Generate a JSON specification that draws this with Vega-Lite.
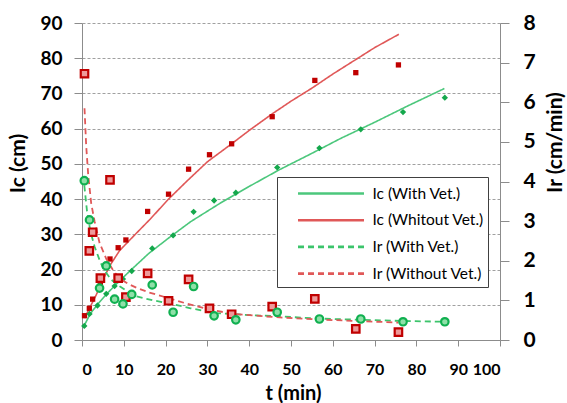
{
  "$schema": "https://vega.github.io/schema/vega-lite/v6.json",
  "width": 418,
  "height": 317,
  "autosize": {"type": "none"},
  "padding": {"left": 82, "top": 23, "right": 67, "bottom": 63},
  "background": "white",
  "config": {
    "view": {"stroke": null},
    "font": "Lato",
    "axis": {
      "domainColor": "#8c8c8c",
      "tickColor": "#8c8c8c",
      "labelColor": "#000000",
      "labelFont": "Lato",
      "labelFontWeight": "bold",
      "titleFont": "Lato",
      "titleFontWeight": "bold",
      "titleColor": "#000000"
    }
  },
  "datasets": {
    "pts": [
      {"t": 0.55, "v": 4.0, "s": "IcW"}, {"t": 1.8, "v": 7.4, "s": "IcW"}, {"t": 3.7, "v": 9.8, "s": "IcW"},
      {"t": 5.8, "v": 13.1, "s": "IcW"}, {"t": 7.8, "v": 15.3, "s": "IcW"}, {"t": 9.8, "v": 17.3, "s": "IcW"},
      {"t": 11.9, "v": 19.6, "s": "IcW"}, {"t": 16.8, "v": 26.0, "s": "IcW"}, {"t": 21.8, "v": 29.7, "s": "IcW"},
      {"t": 26.7, "v": 36.4, "s": "IcW"}, {"t": 31.6, "v": 39.6, "s": "IcW"}, {"t": 36.8, "v": 41.8, "s": "IcW"},
      {"t": 46.7, "v": 49.0, "s": "IcW"}, {"t": 56.8, "v": 54.5, "s": "IcW"}, {"t": 66.7, "v": 59.8, "s": "IcW"},
      {"t": 76.8, "v": 64.7, "s": "IcW"}, {"t": 86.8, "v": 68.8, "s": "IcW"},
      {"t": 0.6, "v": 6.9, "s": "IcWo"}, {"t": 1.75, "v": 9.0, "s": "IcWo"}, {"t": 2.55, "v": 11.6, "s": "IcWo"},
      {"t": 4.4, "v": 15.5, "s": "IcWo"}, {"t": 6.7, "v": 23.0, "s": "IcWo"}, {"t": 8.65, "v": 26.2, "s": "IcWo"},
      {"t": 10.5, "v": 28.4, "s": "IcWo"}, {"t": 15.7, "v": 36.5, "s": "IcWo"}, {"t": 20.7, "v": 41.4, "s": "IcWo"},
      {"t": 25.5, "v": 48.5, "s": "IcWo"}, {"t": 30.5, "v": 52.6, "s": "IcWo"}, {"t": 35.8, "v": 55.7, "s": "IcWo"},
      {"t": 45.5, "v": 63.4, "s": "IcWo"}, {"t": 55.7, "v": 73.7, "s": "IcWo"}, {"t": 65.5, "v": 75.9, "s": "IcWo"},
      {"t": 75.7, "v": 78.1, "s": "IcWo"},
      {"t": 0.55, "v": 4.02, "s": "IrW"}, {"t": 1.8, "v": 3.03, "s": "IrW"}, {"t": 4.2, "v": 1.31, "s": "IrW"},
      {"t": 5.8, "v": 1.87, "s": "IrW"}, {"t": 7.8, "v": 1.03, "s": "IrW"}, {"t": 9.8, "v": 0.91, "s": "IrW"},
      {"t": 11.9, "v": 1.15, "s": "IrW"}, {"t": 16.8, "v": 1.39, "s": "IrW"}, {"t": 21.8, "v": 0.70, "s": "IrW"},
      {"t": 26.7, "v": 1.35, "s": "IrW"}, {"t": 31.6, "v": 0.61, "s": "IrW"}, {"t": 36.8, "v": 0.51, "s": "IrW"},
      {"t": 46.7, "v": 0.70, "s": "IrW"}, {"t": 56.8, "v": 0.53, "s": "IrW"}, {"t": 66.7, "v": 0.53, "s": "IrW"},
      {"t": 76.8, "v": 0.46, "s": "IrW"}, {"t": 86.8, "v": 0.46, "s": "IrW"},
      {"t": 0.6, "v": 6.72, "s": "IrWo"}, {"t": 1.75, "v": 2.25, "s": "IrWo"}, {"t": 2.55, "v": 2.72, "s": "IrWo"},
      {"t": 4.4, "v": 1.56, "s": "IrWo"}, {"t": 6.7, "v": 4.04, "s": "IrWo"}, {"t": 8.65, "v": 1.56, "s": "IrWo"},
      {"t": 10.5, "v": 1.08, "s": "IrWo"}, {"t": 15.7, "v": 1.68, "s": "IrWo"}, {"t": 20.7, "v": 0.99, "s": "IrWo"},
      {"t": 25.5, "v": 1.53, "s": "IrWo"}, {"t": 30.5, "v": 0.80, "s": "IrWo"}, {"t": 35.8, "v": 0.65, "s": "IrWo"},
      {"t": 45.5, "v": 0.84, "s": "IrWo"}, {"t": 55.7, "v": 1.04, "s": "IrWo"}, {"t": 65.5, "v": 0.28, "s": "IrWo"},
      {"t": 75.7, "v": 0.20, "s": "IrWo"}
    ],
    "fit": [
      {"t": 0.5, "v": 4.0, "series": "Ic (With Vet.)"}, {"t": 2, "v": 7.5, "series": "Ic (With Vet.)"},
      {"t": 4, "v": 10.5, "series": "Ic (With Vet.)"}, {"t": 6, "v": 13.2, "series": "Ic (With Vet.)"},
      {"t": 9, "v": 16.8, "series": "Ic (With Vet.)"}, {"t": 12, "v": 20.2, "series": "Ic (With Vet.)"},
      {"t": 16, "v": 24.6, "series": "Ic (With Vet.)"}, {"t": 21, "v": 29.2, "series": "Ic (With Vet.)"},
      {"t": 26, "v": 33.6, "series": "Ic (With Vet.)"}, {"t": 33, "v": 38.8, "series": "Ic (With Vet.)"},
      {"t": 40, "v": 43.6, "series": "Ic (With Vet.)"}, {"t": 47, "v": 48.2, "series": "Ic (With Vet.)"},
      {"t": 55, "v": 53.0, "series": "Ic (With Vet.)"}, {"t": 62, "v": 57.3, "series": "Ic (With Vet.)"},
      {"t": 70, "v": 61.8, "series": "Ic (With Vet.)"}, {"t": 78, "v": 66.5, "series": "Ic (With Vet.)"},
      {"t": 86.7, "v": 71.4, "series": "Ic (With Vet.)"},
      {"t": 0.6, "v": 6.2, "series": "Ic (Whitout Vet.)"}, {"t": 2, "v": 9.5, "series": "Ic (Whitout Vet.)"},
      {"t": 3.4, "v": 12.8, "series": "Ic (Whitout Vet.)"}, {"t": 5, "v": 17.0, "series": "Ic (Whitout Vet.)"},
      {"t": 6.6, "v": 21.0, "series": "Ic (Whitout Vet.)"}, {"t": 9, "v": 25.4, "series": "Ic (Whitout Vet.)"},
      {"t": 13, "v": 30.3, "series": "Ic (Whitout Vet.)"}, {"t": 16.3, "v": 34.3, "series": "Ic (Whitout Vet.)"},
      {"t": 20.7, "v": 40.0, "series": "Ic (Whitout Vet.)"}, {"t": 25, "v": 45.0, "series": "Ic (Whitout Vet.)"},
      {"t": 30, "v": 50.6, "series": "Ic (Whitout Vet.)"}, {"t": 35.8, "v": 55.7, "series": "Ic (Whitout Vet.)"},
      {"t": 40, "v": 59.5, "series": "Ic (Whitout Vet.)"}, {"t": 45.5, "v": 64.2, "series": "Ic (Whitout Vet.)"},
      {"t": 50, "v": 67.8, "series": "Ic (Whitout Vet.)"}, {"t": 55, "v": 71.5, "series": "Ic (Whitout Vet.)"},
      {"t": 60, "v": 75.5, "series": "Ic (Whitout Vet.)"}, {"t": 65.6, "v": 79.7, "series": "Ic (Whitout Vet.)"},
      {"t": 70, "v": 83.0, "series": "Ic (Whitout Vet.)"}, {"t": 75.8, "v": 86.8, "series": "Ic (Whitout Vet.)"},
      {"t": 0.55, "v": 3.9, "series": "Ir (With Vet.)"}, {"t": 1.2, "v": 3.25, "series": "Ir (With Vet.)"},
      {"t": 2.0, "v": 2.75, "series": "Ir (With Vet.)"}, {"t": 3.0, "v": 2.36, "series": "Ir (With Vet.)"},
      {"t": 4.2, "v": 2.02, "series": "Ir (With Vet.)"}, {"t": 5.2, "v": 1.78, "series": "Ir (With Vet.)"},
      {"t": 7, "v": 1.52, "series": "Ir (With Vet.)"}, {"t": 9.1, "v": 1.35, "series": "Ir (With Vet.)"},
      {"t": 11, "v": 1.22, "series": "Ir (With Vet.)"}, {"t": 13.1, "v": 1.1, "series": "Ir (With Vet.)"},
      {"t": 17, "v": 1.0, "series": "Ir (With Vet.)"}, {"t": 21, "v": 0.92, "series": "Ir (With Vet.)"},
      {"t": 26, "v": 0.8, "series": "Ir (With Vet.)"}, {"t": 32, "v": 0.68, "series": "Ir (With Vet.)"},
      {"t": 40, "v": 0.63, "series": "Ir (With Vet.)"}, {"t": 46.5, "v": 0.6, "series": "Ir (With Vet.)"},
      {"t": 56.9, "v": 0.54, "series": "Ir (With Vet.)"}, {"t": 66.8, "v": 0.51, "series": "Ir (With Vet.)"},
      {"t": 76.8, "v": 0.48, "series": "Ir (With Vet.)"}, {"t": 87, "v": 0.46, "series": "Ir (With Vet.)"},
      {"t": 0.6, "v": 5.85, "series": "Ir (Without Vet.)"}, {"t": 1.0, "v": 4.9, "series": "Ir (Without Vet.)"},
      {"t": 1.5, "v": 4.15, "series": "Ir (Without Vet.)"}, {"t": 2.2, "v": 3.45, "series": "Ir (Without Vet.)"},
      {"t": 3.0, "v": 3.0, "series": "Ir (Without Vet.)"}, {"t": 4.2, "v": 2.45, "series": "Ir (Without Vet.)"},
      {"t": 5.8, "v": 2.05, "series": "Ir (Without Vet.)"}, {"t": 7.5, "v": 1.75, "series": "Ir (Without Vet.)"},
      {"t": 9, "v": 1.55, "series": "Ir (Without Vet.)"}, {"t": 11, "v": 1.42, "series": "Ir (Without Vet.)"},
      {"t": 13, "v": 1.32, "series": "Ir (Without Vet.)"}, {"t": 16, "v": 1.2, "series": "Ir (Without Vet.)"},
      {"t": 20.3, "v": 1.07, "series": "Ir (Without Vet.)"}, {"t": 25, "v": 0.92, "series": "Ir (Without Vet.)"},
      {"t": 30, "v": 0.78, "series": "Ir (Without Vet.)"}, {"t": 36, "v": 0.66, "series": "Ir (Without Vet.)"},
      {"t": 45.7, "v": 0.58, "series": "Ir (Without Vet.)"}, {"t": 56, "v": 0.52, "series": "Ir (Without Vet.)"},
      {"t": 65.6, "v": 0.48, "series": "Ir (Without Vet.)"}, {"t": 75.7, "v": 0.44, "series": "Ir (Without Vet.)"}
    ]
  },
  "layer": [
    {
      "encoding": {
        "x": {
          "field": "t", "type": "quantitative",
          "scale": {"domain": [0, 100], "nice": false, "zero": false},
          "axis": {
            "orient": "bottom", "values": [0, 10, 20, 30, 40, 50, 60, 70, 80, 90, 100],
            "grid": false, "tickSize": 6, "labelPadding": 15, "labelFontSize": 16,
            "title": "t (min)", "titleFontSize": 20, "titleX": 211, "titleY": 53,
            "titleBaseline": "middle", "titleAlign": "center"
          }
        },
        "y": {
          "field": "v", "type": "quantitative",
          "scale": {"domain": [0, 90], "nice": false},
          "axis": {
            "orient": "left", "values": [0, 10, 20, 30, 40, 50, 60, 70, 80, 90],
            "grid": true, "gridDash": [3, 2], "gridColor": "#a0a0a0",
            "tickSize": 8, "labelPadding": 12, "labelFontSize": 19,
            "title": "Ic (cm)", "titleFontSize": 21, "titleAngle": 270,
            "titleX": -64, "titleY": 140, "titleBaseline": "middle", "titleAlign": "center"
          }
        }
      },
      "layer": [
        {
          "data": {"name": "fit"},
          "transform": [{"filter": {"field": "series", "oneOf": ["Ic (With Vet.)", "Ic (Whitout Vet.)"]}}],
          "mark": {"type": "line", "strokeWidth": 1.6},
          "encoding": {
            "color": {
              "field": "series", "type": "nominal",
              "scale": {"domain": ["Ic (With Vet.)", "Ic (Whitout Vet.)", "Ir (With Vet.)", "Ir (Without Vet.)"],
                        "range": ["#4cc77c", "#e05858", "#3cc46b", "#e05858"]},
              "legend": {
                "title": null, "orient": "none", "legendX": 195, "legendY": 154,
                "fillColor": "white", "strokeColor": "#404040", "padding": 4,
                "rowPadding": 5.7, "symbolType": "M-3,0H3", "symbolSize": 484,
                "symbolStrokeWidth": 2.6, "symbolOffset": 37.5, "labelOffset": 29,
                "labelFont": "Lato", "labelFontSize": 15.5, "labelColor": "#000000"
              }
            },
            "strokeDash": {
              "field": "series", "type": "nominal",
              "scale": {"domain": ["Ic (With Vet.)", "Ic (Whitout Vet.)", "Ir (With Vet.)", "Ir (Without Vet.)"],
                        "range": [[1, 0], [1, 0], [6, 4], [6, 4]]},
              "legend": {
                "title": null, "orient": "none", "legendX": 195, "legendY": 154,
                "fillColor": "white", "strokeColor": "#404040", "padding": 4,
                "rowPadding": 5.7, "symbolType": "M-3,0H3", "symbolSize": 484,
                "symbolStrokeWidth": 2.6, "symbolOffset": 37.5, "labelOffset": 29,
                "labelFont": "Lato", "labelFontSize": 15.5, "labelColor": "#000000"
              }
            }
          }
        },
        {
          "data": {"name": "pts"},
          "transform": [{"filter": {"field": "s", "equal": "IcWo"}}],
          "mark": {"type": "point", "shape": "square", "filled": true, "size": 28, "color": "#c00000", "opacity": 1}
        },
        {
          "data": {"name": "pts"},
          "transform": [{"filter": {"field": "s", "equal": "IcW"}}],
          "mark": {"type": "point", "shape": "diamond", "filled": true, "size": 40, "color": "#14a84c", "opacity": 1}
        }
      ]
    },
    {
      "encoding": {
        "x": {"field": "t", "type": "quantitative", "scale": {"domain": [0, 100], "nice": false, "zero": false}},
        "y": {
          "field": "v", "type": "quantitative",
          "scale": {"domain": [0, 8], "nice": false},
          "axis": {
            "orient": "right", "values": [0, 1, 2, 3, 4, 5, 6, 7, 8],
            "grid": false, "tickSize": 9, "labelPadding": 14, "labelFontSize": 21,
            "title": "Ir (cm/min)", "titleFontSize": 21, "titleAngle": 270,
            "titleX": 55, "titleY": 119, "titleBaseline": "middle", "titleAlign": "center"
          }
        }
      },
      "layer": [
        {
          "data": {"name": "fit"},
          "transform": [{"filter": {"field": "series", "oneOf": ["Ir (With Vet.)", "Ir (Without Vet.)"]}}],
          "mark": {"type": "line", "strokeWidth": 1.8},
          "encoding": {
            "color": {"field": "series", "type": "nominal"},
            "strokeDash": {"field": "series", "type": "nominal"}
          }
        },
        {
          "data": {"name": "pts"},
          "transform": [{"filter": {"field": "s", "equal": "IrWo"}}],
          "mark": {"type": "point", "shape": "square", "filled": true, "size": 56, "fill": "#ee9a9a", "stroke": "#c00000", "strokeWidth": 2.2, "opacity": 1}
        },
        {
          "data": {"name": "pts"},
          "transform": [{"filter": {"field": "s", "equal": "IrW"}}],
          "mark": {"type": "point", "shape": "circle", "filled": true, "size": 56, "fill": "#8fe0a8", "stroke": "#10b050", "strokeWidth": 2.2, "opacity": 1}
        }
      ]
    }
  ],
  "resolve": {"scale": {"y": "independent"}}
}
